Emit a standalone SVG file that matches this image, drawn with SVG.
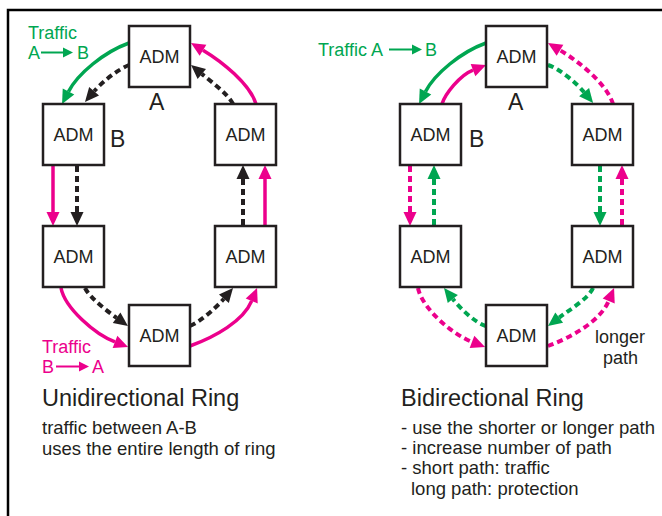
<svg xmlns="http://www.w3.org/2000/svg" width="662" height="516" viewBox="0 0 662 516">
  <style>
    .box { fill: #ffffff; stroke: #231f20; stroke-width: 2.5; }
    .lbl { font-family: "Liberation Sans", Arial, sans-serif; fill: #231f20; }
    .adm { font-size: 18px; text-anchor: middle; }
    .tag { font-size: 23px; }
    .title { font-size: 23.5px; }
    .body { font-size: 18.5px; }
    .tg { font-family: "Liberation Sans", Arial, sans-serif; font-size: 18px; fill: #00a651; }
    .tp { font-family: "Liberation Sans", Arial, sans-serif; font-size: 18px; fill: #ec008c; }
    .ln { fill: none; stroke-width: 3.5; }
    .dash { stroke-dasharray: 6 4; stroke-width: 4; }
    .g { stroke: #00a651; marker-end: url(#headG); }
    .p { stroke: #ec008c; marker-end: url(#headP); }
    .k { stroke: #231f20; marker-end: url(#headK); }
  </style>
  <defs>
    <marker id="headG" markerUnits="userSpaceOnUse" markerWidth="14" markerHeight="13" refX="0" refY="6.5" orient="auto" overflow="visible">
      <path d="M0,0 L14,6.5 L0,13 Z" fill="#00a651"/>
    </marker>
    <marker id="headP" markerUnits="userSpaceOnUse" markerWidth="14" markerHeight="13" refX="0" refY="6.5" orient="auto" overflow="visible">
      <path d="M0,0 L14,6.5 L0,13 Z" fill="#ec008c"/>
    </marker>
    <marker id="headK" markerUnits="userSpaceOnUse" markerWidth="14" markerHeight="13" refX="0" refY="6.5" orient="auto" overflow="visible">
      <path d="M0,0 L14,6.5 L0,13 Z" fill="#231f20"/>
    </marker>
    <marker id="smallG" markerUnits="userSpaceOnUse" markerWidth="10" markerHeight="10" refX="0" refY="5" orient="auto" overflow="visible">
      <path d="M0,0 L10,5 L0,10 Z" fill="#00a651"/>
    </marker>
    <marker id="smallP" markerUnits="userSpaceOnUse" markerWidth="10" markerHeight="10" refX="0" refY="5" orient="auto" overflow="visible">
      <path d="M0,0 L10,5 L0,10 Z" fill="#ec008c"/>
    </marker>
  </defs>

  <!-- frame -->
  <path d="M662,10 H8 V516" fill="none" stroke="#000000" stroke-width="2.5"/>

  <!-- connectors -->
  <g id="connectors">
    <!-- unidirectional ring -->
    <path class="ln g" d="M129,43 C104,52 77.7,73.8 68.5,91.6"/>
    <path class="ln dash k" d="M129,65 C117,70 101.9,82.2 94.1,91.3"/>
    <path class="ln p" d="M256,104 C250,84 221.8,61.5 203,50.2"/>
    <path class="ln dash k" d="M233,104 C228,94 211,81.6 201.8,73.9"/>
    <path class="ln p" d="M53,166 V212"/>
    <path class="ln dash k" d="M77,166 V212"/>
    <path class="ln dash k" d="M243,225 V179"/>
    <path class="ln p" d="M265,225 V179"/>
    <path class="ln p" d="M61,288 C65,308 94.5,334 115,341.9"/>
    <path class="ln dash k" d="M85,288 C90,298 106.9,310.8 116.6,317.8"/>
    <path class="ln dash k" d="M190,326 C200,322 216.1,307.8 223.9,298.7"/>
    <path class="ln p" d="M190,346 C215,337 243.3,321.1 251.7,300.9"/>

    <!-- bidirectional ring -->
    <path class="ln g" d="M486,43 C461,52 434.7,73.8 425.5,91.6"/>
    <path class="ln p" d="M442,104 C445,94 460,75.1 473,70.1"/>
    <path class="ln dash g" d="M548,65 C560,69 576.4,83 584.1,92.2"/>
    <path class="ln dash p" d="M613,104 C607,84 578.8,61.5 560,50.2"/>
    <path class="ln dash p" d="M410,166 V212"/>
    <path class="ln dash g" d="M434,225 V179"/>
    <path class="ln dash g" d="M600,166 V212"/>
    <path class="ln dash p" d="M622,225 V179"/>
    <path class="ln dash p" d="M418,288 C422,308 451.5,334 472,341.9"/>
    <path class="ln dash g" d="M486,326 C475,323 460.3,308.3 452.8,299"/>
    <path class="ln dash g" d="M593,288 C589,298 568.8,310.4 559.2,317.6"/>
    <path class="ln dash p" d="M548,346 C572,337 600.3,321.1 608.7,300.9"/>
  </g>

  <!-- unidirectional ring nodes -->
  <g id="uni-a">
    <rect class="box" x="129" y="26" width="61" height="61"/>
    <text class="lbl adm" x="159.5" y="63">ADM</text>
    <text class="lbl tag" x="149" y="110">A</text>
  </g>
  <g id="uni-b">
    <rect class="box" x="43" y="104" width="61" height="61"/>
    <text class="lbl adm" x="73.5" y="141">ADM</text>
    <text class="lbl tag" x="110" y="147">B</text>
  </g>
  <g id="uni-ru">
    <rect class="box" x="215" y="104" width="61" height="61"/>
    <text class="lbl adm" x="245.5" y="141">ADM</text>
  </g>
  <g id="uni-ll">
    <rect class="box" x="43" y="226" width="61" height="61"/>
    <text class="lbl adm" x="73.5" y="263">ADM</text>
  </g>
  <g id="uni-rl">
    <rect class="box" x="215" y="226" width="61" height="61"/>
    <text class="lbl adm" x="245.5" y="263">ADM</text>
  </g>
  <g id="uni-bottom">
    <rect class="box" x="129" y="305" width="61" height="61"/>
    <text class="lbl adm" x="159.5" y="342">ADM</text>
  </g>

  <!-- bidirectional ring nodes -->
  <g id="bi-a">
    <rect class="box" x="486" y="26" width="61" height="61"/>
    <text class="lbl adm" x="516.5" y="63">ADM</text>
    <text class="lbl tag" x="508" y="110">A</text>
  </g>
  <g id="bi-b">
    <rect class="box" x="400" y="104" width="61" height="61"/>
    <text class="lbl adm" x="430.5" y="141">ADM</text>
    <text class="lbl tag" x="469" y="147">B</text>
  </g>
  <g id="bi-ru">
    <rect class="box" x="572" y="104" width="61" height="61"/>
    <text class="lbl adm" x="602.5" y="141">ADM</text>
  </g>
  <g id="bi-ll">
    <rect class="box" x="400" y="226" width="61" height="61"/>
    <text class="lbl adm" x="430.5" y="263">ADM</text>
  </g>
  <g id="bi-rl">
    <rect class="box" x="572" y="226" width="61" height="61"/>
    <text class="lbl adm" x="602.5" y="263">ADM</text>
  </g>
  <g id="bi-bottom">
    <rect class="box" x="486" y="305" width="61" height="61"/>
    <text class="lbl adm" x="516.5" y="342">ADM</text>
  </g>

  <!-- traffic legends -->
  <g id="legend-uni-ab">
    <text class="tg" x="28" y="39">Traffic</text>
    <text class="tg" x="28" y="59">A</text>
    <line x1="41" y1="52.5" x2="63" y2="52.5" stroke="#00a651" stroke-width="2" marker-end="url(#smallG)"/>
    <text class="tg" x="77" y="59">B</text>
  </g>
  <g id="legend-uni-ba">
    <text class="tp" x="42" y="353">Traffic</text>
    <text class="tp" x="42" y="373">B</text>
    <line x1="56" y1="366.5" x2="79" y2="366.5" stroke="#ec008c" stroke-width="2" marker-end="url(#smallP)"/>
    <text class="tp" x="92" y="373">A</text>
  </g>
  <g id="legend-bi-ab">
    <text class="tg" x="318" y="56">Traffic A</text>
    <line x1="389" y1="49.5" x2="412" y2="49.5" stroke="#00a651" stroke-width="2" marker-end="url(#smallG)"/>
    <text class="tg" x="425" y="56">B</text>
  </g>
  <g id="legend-longer">
    <text class="lbl" font-size="18" x="595" y="343">longer</text>
    <text class="lbl" font-size="18" x="603" y="364">path</text>
  </g>

  <!-- captions -->
  <g id="caption-uni">
    <text class="lbl title" x="42" y="406">Unidirectional Ring</text>
    <text class="lbl body" x="42" y="434">traffic between A-B</text>
    <text class="lbl body" x="42" y="455">uses the entire length of ring</text>
  </g>
  <g id="caption-bi">
    <text class="lbl title" x="401" y="406">Bidirectional Ring</text>
    <text class="lbl body" x="401" y="434">- use the shorter or longer path</text>
    <text class="lbl body" x="401" y="454">- increase number of path</text>
    <text class="lbl body" x="401" y="474">- short path: traffic</text>
    <text class="lbl body" x="411" y="495">long path: protection</text>
  </g>
</svg>
